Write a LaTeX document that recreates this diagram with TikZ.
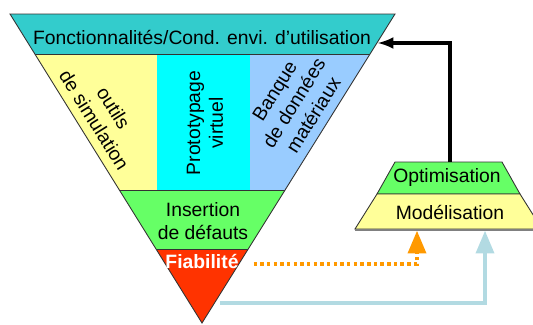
\documentclass[tikz,border=0pt]{standalone}
\usepackage{fontspec}
\setmainfont{Liberation Sans}
\usepackage{tikz}
\usetikzlibrary{arrows, positioning, calc}
\definecolor{vteal}{RGB}{51,204,204}
\definecolor{vyellow}{RGB}{255,255,153}
\definecolor{vcyan}{RGB}{0,255,255}
\definecolor{vblue}{RGB}{153,204,255}
\definecolor{vgreen}{RGB}{102,255,102}
\definecolor{vred}{RGB}{255,51,0}
\definecolor{vorange}{RGB}{255,153,0}
\definecolor{vlink}{RGB}{178,218,226}

\begin{document}
\begin{tikzpicture}[x=0.02cm,y=-0.02cm,
  every node/.style={font=\fontsize{11}{13}\selectfont, align=center},
  edge/.style={draw=black!80, line width=0.5pt},
  link/.style={line width=2pt}]
\useasboundingbox (0,0) rectangle (533,324);
% V cycle
\coordinate (vl) at (10,14);
\coordinate (vr) at (395,14);
\coordinate (vapex) at (202,323);
\begin{scope}
\clip (vl) -- (vr) -- (vapex) -- cycle;
\fill[vteal] (0,14) rectangle (400,54);
\fill[vyellow] (0,54) rectangle (157,190);
\fill[vcyan] (157,54) rectangle (250,190);
\fill[vblue] (250,54) rectangle (400,190);
\fill[vgreen] (0,190) rectangle (400,249);
\fill[vred] (0,249) rectangle (400,330);
\draw[edge] (0,54) -- (400,54) (0,190) -- (400,190) (0,249) -- (400,249);
\end{scope}
\draw[edge] (vl) -- (vr) -- (vapex) -- cycle;

\node (fonc) at (202,37) {Fonctionnalités/Cond. envi. d'utilisation};
\node[rotate=-58] (outils) at (104,114) {outils\\de simulation};
\node[rotate=90] (proto) at (205,123) {Prototypage\\virtuel};
\node[rotate=58] (banque) at (294,103) {Banque\\de données\\matériaux};
\node (insertion) at (203,221) {Insertion\\de défauts};
\node[text=white, font=\fontsize{11}{13}\selectfont\bfseries] (fiab) at (202,262) {Fiabilité};

% Modelling block
\filldraw[edge, fill=vgreen] (395,162) -- (502,162) -- (520,194) -- (377,194) -- cycle;
\filldraw[edge, fill=vyellow] (377,194) -- (520,194) -- (542,229) -- (355,229) -- cycle;
\draw[gray, line width=1.5pt] (355,230) -- (545,230);
\node (optim) at (447,178) {Optimisation};
\node (model) at (450,212) {Modélisation};

% Links
\coordinate (optimtop) at (450,162);
\coordinate (fonctip) at (378,43);
\coordinate (modleft) at (417,231);
\coordinate (vedge) at (220,303);
\coordinate (modright) at (485,231);
\draw[-latex, link] (optimtop) |- (fonctip);
\draw[-triangle 45, link, vorange, dash pattern=on 2pt off 1.8pt] ([xshift=5pt,yshift=-1pt]fiab.east) -| (modleft);
\draw[-triangle 45, link, vlink] (vedge) -| (modright);
\end{tikzpicture}
\end{document}
